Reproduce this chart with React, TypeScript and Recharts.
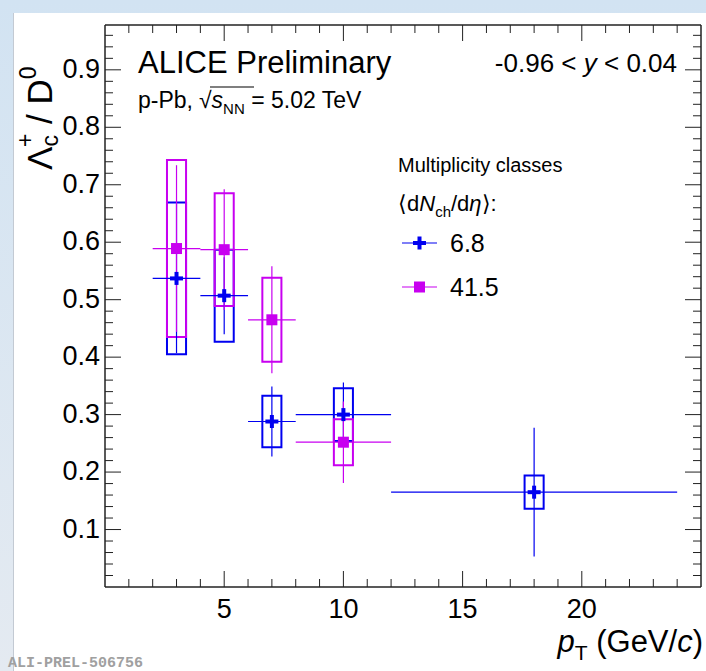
import {
  ComposedChart,
  ErrorBar,
  ReferenceArea,
  Scatter,
  XAxis,
  YAxis,
} from "recharts";

// Lambda_c+ / D0 ratio vs pT, p-Pb 5.02 TeV, two multiplicity classes
const lowMultPt = [3, 5, 7, 10, 18];
const lowMultPtErr = [1, 1, 1, 2, 6];
const lowMultRatio = [0.537, 0.507, 0.288, 0.3, 0.165];
const lowMultStat = [0.13, 0.067, 0.061, 0.056, 0.112];
const lowMultSyst = [0.132, 0.08, 0.045, 0.046, 0.029];

const highMultPt = [3, 5, 7, 10];
const highMultPtErr = [1, 1, 1, 2];
const highMultRatio = [0.589, 0.587, 0.465, 0.252];
const highMultStat = [0.145, 0.105, 0.093, 0.071];
const highMultSyst = [0.154, 0.098, 0.073, 0.04];

const multClasses = ["6.8", "41.5"];
const xMajorTicks = [5, 10, 15, 20];
const yMajorTicks = [0.1, 0.2, 0.3, 0.4, 0.5, 0.6, 0.7, 0.8, 0.9];

const BLUE = "#0000f0";
const MAGENTA = "#c800f0";
const AXIS = "#222";
const FONT = "'Liberation Sans', Arial, Helvetica, sans-serif";
const BOX_HALF = 0.4;

const X_MAX = 25;
const Y_MAX = 0.978;

const xTicks = Array.from({ length: 24 }, (_, i) => i + 1);
const yTicks = Array.from({ length: 48 }, (_, i) => +((i + 1) * 0.02).toFixed(2));

const toRows = (pt: number[], ex: number[], y: number[], ey: number[]) =>
  pt.map((p, i) => ({ pt: p, ratio: y[i], ex: ex[i], ey: ey[i] }));

const lowRows = toRows(lowMultPt, lowMultPtErr, lowMultRatio, lowMultStat);
const highRows = toRows(highMultPt, highMultPtErr, highMultRatio, highMultStat);

const isMajorX = (v: number) => xMajorTicks.includes(v);
const isMajorY = (v: number) => yMajorTicks.some((t) => Math.abs(t - v) < 1e-6);

function PlusMarker({ cx, cy, color = BLUE }: any) {
  if (cx == null || cy == null) return null;
  return (
    <g>
      <rect x={cx - 6.5} y={cy - 2} width={13} height={4} fill={color} />
      <rect x={cx - 2} y={cy - 6.5} width={4} height={13} fill={color} />
    </g>
  );
}

function SquareMarker({ cx, cy, color = MAGENTA }: any) {
  if (cx == null || cy == null) return null;
  return <rect x={cx - 5.5} y={cy - 5.5} width={11} height={11} fill={color} />;
}

// axes are 1px thick, so tick coordinates sit right on the frame line
function BottomTick({ x, y, payload }: any) {
  const major = isMajorX(payload.value);
  return (
    <g>
      <line x1={x} x2={x} y1={y} y2={y - (major ? 16 : 8)} stroke={AXIS} strokeWidth={1} />
      {major && (
        <text x={x} y={y + 31} textAnchor="middle" fontSize={27} fontFamily={FONT} fill="#000">
          {payload.value}
        </text>
      )}
    </g>
  );
}

function TopTick({ x, y, payload }: any) {
  const major = isMajorX(payload.value);
  return <line x1={x} x2={x} y1={y} y2={y + (major ? 16 : 8)} stroke={AXIS} strokeWidth={1} />;
}

function LeftTick({ x, y, payload }: any) {
  const major = isMajorY(payload.value);
  return (
    <g>
      <line x1={x} x2={x + (major ? 16 : 8)} y1={y} y2={y} stroke={AXIS} strokeWidth={1} />
      {major && (
        <text x={x - 5} y={y + 8} textAnchor="end" fontSize={27} fontFamily={FONT} fill="#000">
          {payload.value.toFixed(1)}
        </text>
      )}
    </g>
  );
}

function RightTick({ x, y, payload }: any) {
  const major = isMajorY(payload.value);
  return <line x1={x} x2={x - (major ? 16 : 8)} y1={y} y2={y} stroke={AXIS} strokeWidth={1} />;
}

function Annotations() {
  return (
    <svg
      width={706}
      height={671}
      style={{ position: "absolute", left: 0, top: 0, pointerEvents: "none" }}
      fontFamily={FONT}
    >
      {/* y-axis title */}
      <text transform="translate(52,170) rotate(-90)" fontSize={35} fill="#000">
        Λ
        <tspan fontSize={23} dy={6}>c</tspan>
        <tspan fontSize={23} dx={-12} dy={-25}>+</tspan>
        <tspan dy={19}> / D</tspan>
        <tspan fontSize={23} dy={-16}>0</tspan>
      </text>

      {/* x-axis title */}
      <text x={703} y={652} textAnchor="end" fontSize={31} fill="#000">
        <tspan fontStyle="italic">p</tspan>
        <tspan fontSize={21} dy={8}>T</tspan>
        <tspan dy={-8}> (GeV/</tspan>
        <tspan fontStyle="italic">c</tspan>
        <tspan>)</tspan>
      </text>

      <text x={138} y={73} fontSize={31} fill="#000">ALICE Preliminary</text>
      <text x={138} y={108} fontSize={23} fill="#000">
        p-Pb,
        <tspan dx={6}>√</tspan>
        <tspan fontStyle="italic">s</tspan>
        <tspan fontSize={15} dy={6}>NN</tspan>
        <tspan dy={-6}> = 5.02 TeV</tspan>
      </text>
      <line x1={210} x2={254} y1={87} y2={87} stroke="#000" strokeWidth={1.2} />

      <text x={677} y={72} textAnchor="end" fontSize={26} fill="#000">
        -0.96 &lt; <tspan fontStyle="italic">y</tspan> &lt; 0.04
      </text>

      {/* legend */}
      <text x={398} y={172} fontSize={20} fill="#000">Multiplicity classes</text>
      <text x={398} y={211} fontSize={22} fill="#000">
        ⟨d<tspan fontStyle="italic">N</tspan>
        <tspan fontSize={15} dy={6}>ch</tspan>
        <tspan dy={-6}>/d</tspan>
        <tspan fontStyle="italic">η</tspan>⟩:
      </text>
      {multClasses.map((label, i) => {
        const cy = 243 + i * 44;
        const color = i === 0 ? BLUE : MAGENTA;
        return (
          <g key={label}>
            <line x1={402} x2={437} y1={cy} y2={cy} stroke={color} strokeWidth={1.2} />
            {i === 0 ? (
              <PlusMarker cx={419.5} cy={cy} color={color} />
            ) : (
              <SquareMarker cx={419.5} cy={cy} color={color} />
            )}
            <text x={450} y={cy + 9} fontSize={25} fill="#000">{label}</text>
          </g>
        );
      })}

      <text
        x={8}
        y={667}
        fontSize={15}
        fontWeight="bold"
        fontFamily="'Liberation Mono', 'DejaVu Sans Mono', monospace"
        fill="#a0a0a0"
      >
        ALI-PREL-506756
      </text>
    </svg>
  );
}

export default function App() {
  return (
    <div
      style={{
        position: "absolute",
        left: 0,
        top: 0,
        width: 706,
        height: 671,
        background: "linear-gradient(180deg, #d2e3f2 0%, #e4eaf1 100%)",
        overflow: "hidden",
      }}
    >
      <div
        style={{
          position: "absolute",
          left: 13,
          top: 13,
          right: 0,
          bottom: 0,
          background: "#fff",
          borderLeft: "1px solid #c3cad3",
        }}
      />
      <div style={{ position: "absolute", left: 0, top: 0 }}>
        <ComposedChart width={706} height={671} margin={{ top: 24, right: 4, bottom: 83, left: 104 }}>
          <XAxis
            dataKey="pt"
            type="number"
            domain={[0, X_MAX]}
            ticks={xTicks}
            interval={0}
            height={1}
            tickSize={0}
            tickMargin={0}
            tickLine={false}
            tick={<BottomTick />}
            axisLine={{ stroke: AXIS, strokeWidth: 1.5 }}
            allowDataOverflow
          />
          <XAxis
            xAxisId="top"
            orientation="top"
            dataKey="pt"
            type="number"
            domain={[0, X_MAX]}
            ticks={xTicks}
            interval={0}
            height={1}
            tickSize={0}
            tickMargin={0}
            tickLine={false}
            tick={<TopTick />}
            axisLine={{ stroke: AXIS, strokeWidth: 1.5 }}
            allowDataOverflow
          />
          <YAxis
            type="number"
            domain={[0, Y_MAX]}
            ticks={yTicks}
            interval={0}
            width={1}
            tickSize={0}
            tickMargin={0}
            tickLine={false}
            tick={<LeftTick />}
            axisLine={{ stroke: AXIS, strokeWidth: 1.5 }}
            allowDataOverflow
          />
          <YAxis
            yAxisId="right"
            orientation="right"
            type="number"
            domain={[0, Y_MAX]}
            ticks={yTicks}
            interval={0}
            width={1}
            tickSize={0}
            tickMargin={0}
            tickLine={false}
            tick={<RightTick />}
            axisLine={{ stroke: AXIS, strokeWidth: 1.5 }}
            allowDataOverflow
          />

          {/* systematic uncertainty boxes */}
          {lowMultPt.map((p, i) => (
            <ReferenceArea
              key={`low-box-${p}`}
              x1={p - BOX_HALF}
              x2={p + BOX_HALF}
              y1={lowMultRatio[i] - lowMultSyst[i]}
              y2={lowMultRatio[i] + lowMultSyst[i]}
              fill="none"
              stroke={BLUE}
              strokeWidth={2}
              ifOverflow="visible"
            />
          ))}
          {highMultPt.map((p, i) => (
            <ReferenceArea
              key={`high-box-${p}`}
              x1={p - BOX_HALF}
              x2={p + BOX_HALF}
              y1={highMultRatio[i] - highMultSyst[i]}
              y2={highMultRatio[i] + highMultSyst[i]}
              fill="none"
              stroke={MAGENTA}
              strokeWidth={2}
              ifOverflow="visible"
            />
          ))}

          <Scatter
            name={multClasses[0]}
            data={lowRows}
            dataKey="ratio"
            fill={BLUE}
            shape={(props: any) => <PlusMarker {...props} color={BLUE} />}
            isAnimationActive={false}
          >
            <ErrorBar dataKey="ex" direction="x" width={0} stroke={BLUE} strokeWidth={1.2} />
            <ErrorBar dataKey="ey" direction="y" width={0} stroke={BLUE} strokeWidth={1.2} />
          </Scatter>
          <Scatter
            name={multClasses[1]}
            data={highRows}
            dataKey="ratio"
            fill={MAGENTA}
            shape={(props: any) => <SquareMarker {...props} color={MAGENTA} />}
            isAnimationActive={false}
          >
            <ErrorBar dataKey="ex" direction="x" width={0} stroke={MAGENTA} strokeWidth={1.2} />
            <ErrorBar dataKey="ey" direction="y" width={0} stroke={MAGENTA} strokeWidth={1.2} />
          </Scatter>
        </ComposedChart>
      </div>
      <Annotations />
    </div>
  );
}
